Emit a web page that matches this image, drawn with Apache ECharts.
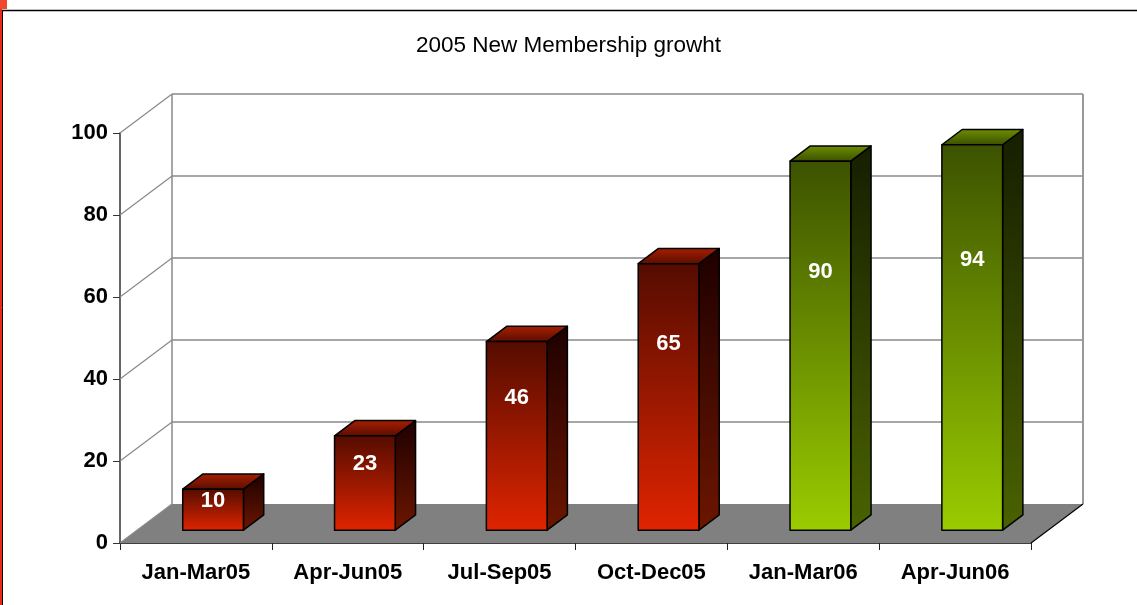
<!DOCTYPE html>
<html>
<head>
<meta charset="utf-8">
<script src="https://cdn.jsdelivr.net/npm/echarts@6/dist/echarts.min.js"></script>
<style>
html, body { margin: 0; padding: 0; background: #fff; }
#chart { width: 1137px; height: 605px; }
</style>
</head>
<body>
<div id="chart"></div>
<script>
// data
var categories = ['Jan-Mar05', 'Apr-Jun05', 'Jul-Sep05', 'Oct-Dec05', 'Jan-Mar06', 'Apr-Jun06'];
var members = [10, 23, 46, 65, 90, 94];
var yTicks = [0, 20, 40, 60, 80, 100];

// depth of the 3d box (wall) in px
var DX = 52, DY = -39;
var FONT = '"Liberation Sans", Arial, sans-serif';

function line(x1, y1, x2, y2, color, w) {
    return { type: 'line', shape: { x1: x1, y1: y1, x2: x2, y2: y2 }, style: { stroke: color, lineWidth: w || 1 } };
}

function grad(c0, c1) {
    return new echarts.graphic.LinearGradient(0, 0, 0, 1, [{ offset: 0, color: c0 }, { offset: 1, color: c1 }]);
}

// walls + floor
function renderFrame(params, api) {
    var cs = params.coordSys;
    var x0 = cs.x, x1 = cs.x + cs.width;
    var yb = api.coord([0, 0])[1];
    var yt = api.coord([0, yTicks[yTicks.length - 1]])[1];
    var ch = [];
    ch.push({ type: 'polygon', shape: { points: [[x0, yb], [x0 + DX, yb + DY], [x1 + DX, yb + DY], [x1, yb]] }, style: { fill: '#808080' } });
    yTicks.forEach(function (v) {
        var y = api.coord([0, v])[1];
        if (v > 0) ch.push(line(x0 + DX, y + DY, x1 + DX, y + DY, '#888', 1.5));
        ch.push(line(x0, y, x0 + DX, y + DY, '#888', 1.2));
    });
    ch.push(line(x0 + DX, yt + DY, x0 + DX, yb + DY, '#888', 1.5));
    ch.push(line(x1 + DX, yt + DY, x1 + DX, yb + DY, '#999', 2));
    ch.push(line(x1, yb, x1 + DX, yb + DY, '#000', 1.2));
    return { type: 'group', children: ch };
}

// 3d bars
function renderBar(params, api) {
    var i = api.value(0), v = api.value(1);
    var base = api.coord([i, 0]), top = api.coord([i, v]);
    var band = api.size([1, 0])[0];
    var w = band * 0.4;
    var fx = DX * 0.33, fy = DY * 0.33;
    var bx = DX * 0.39, by = DY * 0.39;
    var xl = base[0] - w / 2 + fx, xr = xl + w;
    var yB = base[1] + fy, yT = top[1] + fy;
    var isNew = categories[i].slice(-2) === '06';
    var c = isNew
        ? { f0: '#3c5200', f1: '#9acc00', s0: '#161e00', s1: '#4a6200', t0: '#6e9000', t1: '#3a4e00' }
        : { f0: '#540c00', f1: '#e02400', s0: '#1e0000', s1: '#6c1600', t0: '#a82000', t1: '#5a0c00' };
    var stroke = { stroke: '#000', lineWidth: 1.5, lineJoin: 'round' };
    return {
        type: 'group',
        children: [
            { type: 'polygon', shape: { points: [[xr, yB], [xr, yT], [xr + bx, yT + by], [xr + bx, yB + by]] },
              style: Object.assign({ fill: grad(c.s0, c.s1) }, stroke) },
            { type: 'polygon', shape: { points: [[xl, yT], [xr, yT], [xr + bx, yT + by], [xl + bx, yT + by]] },
              style: Object.assign({ fill: grad(c.t0, c.t1) }, stroke) },
            { type: 'rect', shape: { x: xl, y: yT, width: w, height: yB - yT },
              style: Object.assign({ fill: grad(c.f0, c.f1) }, stroke) },
            { type: 'text', x: (xl + xr) / 2, y: yT + (yB - yT) * 0.3,
              style: { text: String(v), fill: '#fff', font: 'bold 22px ' + FONT, align: 'center', verticalAlign: 'middle' } }
        ]
    };
}

var chart = echarts.init(document.getElementById('chart'));
var option = {
    backgroundColor: '#fff',
    animation: false,
    title: {
        text: '2005 New Membership growht',
        left: 'center',
        top: 29,
        textStyle: { fontFamily: FONT, fontSize: 22.5, fontWeight: 'normal', color: '#000' }
    },
    graphic: [
        { type: 'rect', shape: { x: 0, y: 0, width: 2, height: 605 }, style: { fill: '#e8291c' } },
        { type: 'rect', shape: { x: 0, y: 0, width: 7, height: 9 }, style: { fill: '#f04a2e' } },
        { type: 'line', shape: { x1: 2, y1: 10.5, x2: 1137, y2: 10.5 }, style: { stroke: '#000', lineWidth: 1.5 } },
        { type: 'line', shape: { x1: 2.5, y1: 10, x2: 2.5, y2: 605 }, style: { stroke: '#000', lineWidth: 1 } }
    ],
    grid: { left: 120, top: 133, width: 911, height: 410, containLabel: false },
    xAxis: {
        type: 'category',
        data: categories,
        boundaryGap: true,
        axisLine: { lineStyle: { color: '#000', width: 1.5 } },
        axisTick: { show: true, length: 7, lineStyle: { color: '#222' } },
        axisLabel: { margin: 19, color: '#000', fontFamily: FONT, fontSize: 22, fontWeight: 'bold' },
        splitLine: { show: false }
    },
    yAxis: {
        type: 'value',
        min: 0,
        max: 100,
        interval: 20,
        axisLine: { show: true, lineStyle: { color: '#333', width: 1.5 } },
        axisTick: { show: true, length: 7, lineStyle: { color: '#333' } },
        axisLabel: { margin: 12, color: '#000', fontFamily: FONT, fontSize: 22, fontWeight: 'bold' },
        splitLine: { show: false }
    },
    series: [
        {
            name: 'frame',
            type: 'custom',
            z: 1,
            silent: true,
            renderItem: renderFrame,
            data: [[0, 0]]
        },
        {
            name: 'New members',
            type: 'custom',
            z: 3,
            renderItem: renderBar,
            encode: { x: 0, y: 1 },
            data: members.map(function (v, i) { return [i, v]; })
        }
    ]
};
chart.setOption(option);
</script>
</body>
</html>
